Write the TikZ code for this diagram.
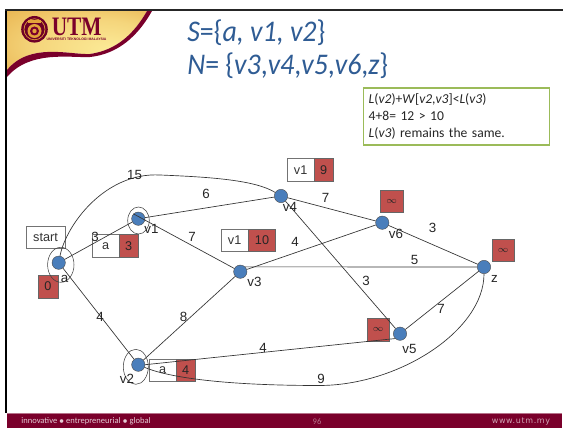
\documentclass[tikz,border=0pt]{standalone}
\usepackage{fontspec}
\setmainfont{Carlito}
\setsansfont{Liberation Sans}
\newfontfamily\logofont{Liberation Serif}
\newfontfamily\webfont[LetterSpace=8]{DejaVu Sans}
\usetikzlibrary{calc}
\definecolor{maroon}{HTML}{7A002B}
\definecolor{nodeblue}{HTML}{4A7EBB}
\definecolor{cellred}{HTML}{C0504D}
\definecolor{titleblue}{HTML}{2F5C94}
\definecolor{boxgreen}{HTML}{9BBB59}
\definecolor{gold}{HTML}{E3A33A}
\definecolor{lightgold}{HTML}{FCEB98}
\pgfdeclareradialshading{hdrshade}{\pgfpoint{13bp}{-8bp}}{color(0bp)=(lightgold); color(22bp)=(lightgold!70!gold); color(50bp)=(gold)}
\tikzset{
  px/.style={x=0.75pt,y=-0.75pt},
  gnode/.style={circle,fill=nodeblue,draw=black!70,line width=0.3pt,minimum size=10pt,inner sep=0pt},
  edge/.style={draw=black!80,line width=0.5pt},
  lbl/.style={font=\sffamily\fontsize{10}{10}\selectfont,text=black!85,inner sep=0pt},
  wcell/.style={draw=black!55,fill=white,line width=0.5pt,font=\sffamily\fontsize{9.5}{10}\selectfont,text=black!80,inner sep=0pt,anchor=north west},
  rcell/.style={draw=black!60,fill=cellred,line width=0.5pt,font=\sffamily\fontsize{9.5}{10}\selectfont,text=black!85,inner sep=0pt,anchor=north west},
  infcell/.style={rcell,font=\fontsize{7}{7}\selectfont,minimum width=17pt,minimum height=17pt},
  ring/.style={draw=black!75,line width=0.4pt},
  titletext/.style={font=\fontsize{22.5}{22}\selectfont,text=titleblue,anchor=west,inner sep=0pt}
}
\begin{document}
\begin{tikzpicture}[px]
\useasboundingbox (0,0) rectangle (563,428);
\fill[white] (0,0) rectangle (563,428);
% header
\shade[shading=hdrshade]
  (7,11) -- (147,11) .. controls (135,32) and (118,50) .. (90,54) .. controls (70,55) and (30,42) .. (7,70) -- cycle;
\fill[maroon] (147,11) -- (152,11) .. controls (138,36) and (118,54) .. (90,57) .. controls (70,58) and (30,50) .. (7,77) -- (7,70) .. controls (30,42) and (70,55) .. (90,54) .. controls (118,50) and (135,32) .. (147,11) -- cycle;
% logo
\fill[maroon!90!black] (34.5,29.3) circle (13.3);
\draw[gold,line width=0.5pt] (34.5,29.3) circle (10.5);
\fill[gold] (34.5,31) circle (7);
\fill[maroon] (34.5,31) circle (4.5);
\fill[gold] (34.5,31) circle (2.2);
\fill[gold] (28,20) rectangle (41,23);
\node (utm) at (76.7,26.4) [font=\logofont\bfseries\fontsize{20}{20}\selectfont,text=maroon,inner sep=0pt] {\scalebox{.8}[1]{UTM}};
\node (utmsub) at (76.5,39.6) [font=\sffamily\bfseries\fontsize{2.6}{3}\selectfont,text=maroon,inner sep=0pt] {UNIVERSITI TEKNOLOGI MALAYSIA};
% frame
\fill[black] (5,9) rectangle (7,412.5);
\fill[black!85] (5,9) rectangle (563,11.5);
\fill[maroon] (7,412.5) rectangle (562,428);
\fill[maroon!55!white] (7,412.5) rectangle (562,413.2);
% footer
\node (f1) at (86,421.7) [font=\fontsize{6.4}{7}\selectfont,text=white!80!maroon,inner sep=0pt] {innovative $\bullet$ entrepreneurial $\bullet$ global};
\node (f2) at (317,421.7) [font=\fontsize{6.4}{7}\selectfont,text=white!45!maroon,inner sep=0pt] {96};
\node (f3) at (521,421.5) [font=\webfont\fontsize{6}{7}\selectfont,text=white!65!maroon,inner sep=0pt] {www.utm.my};
% title
\node (t1) at (187,33) [titletext] {\scalebox{.93}[1]{\textit{S}=\{\textit{a, v1, v2}\}}};
\node (t2) at (187,66) [titletext] {\scalebox{.93}[1]{\textit{N}= \{\textit{v3},\textit{v4},\textit{v5},\textit{v6},\textit{z}\}}};
% note
\node (note) at (362.5,86.8) [draw=boxgreen,line width=1.3pt,fill=white,anchor=north west,inner xsep=4pt,inner ysep=2pt,text width=131.5pt,minimum height=43pt,align=left,font=\fontsize{10.2}{12.5}\selectfont,text=black!85] {\textit{L}(\textit{v2})+\textit{W}[\textit{v2},\textit{v3}]<\textit{L}(\textit{v3})\\4+8= 12 > 10\\\textit{L}(\textit{v3}) remains the same.};
% graph nodes
\node[gnode] (a) at (58.7,262.7) {};
\node[gnode] (v1) at (138.3,218.7) {};
\node[gnode] (v2) at (138.3,364.7) {};
\node[gnode] (v3) at (240.3,271.7) {};
\node[gnode] (v4) at (281,196) {};
\node[gnode] (v5) at (400,333.7) {};
\node[gnode] (v6) at (382.3,222.7) {};
\node[gnode] (z) at (484,267) {};
% boxes
\node[wcell,minimum width=29.5pt,minimum height=17pt] (start) at (25.5,225.5) {start};
\node[wcell,minimum width=20pt,minimum height=17.5pt] (c1a) at (92,234) {a};
\node[rcell,minimum width=14pt,minimum height=17.5pt] (c1v) at (119,234) {3};
\node[wcell,minimum width=20pt,minimum height=17pt] (c3a) at (221,228.5) {v1};
\node[rcell,minimum width=20.5pt,minimum height=17pt] (c3v) at (248,228.5) {10};
\node[wcell,minimum width=20pt,minimum height=17pt] (c4a) at (287,158.3) {v1};
\node[rcell,minimum width=14pt,minimum height=17pt] (c4v) at (314,158.3) {9};
\node[infcell] (c6v) at (380,189.5) {$\infty$};
\node[infcell] (czv) at (491.5,238.5) {$\infty$};
\node[infcell] (c5v) at (366.5,318) {$\infty$};
\node[rcell,minimum width=15pt,minimum height=17.5pt] (c0v) at (37.5,274.5) {0};
\node[wcell,minimum width=20pt,minimum height=17pt] (c2a) at (149,358.5) {a};
\node[rcell,minimum width=14pt,minimum height=17pt] (c2v) at (176,358.5) {4};
% edges
\draw[edge] (a) .. controls (66,225) and (105,172) .. (160,175) .. controls (210,177) and (255,180) .. (v4);
\draw[edge] (a) -- (v1);
\draw[edge] (a) -- (v2);
\draw[edge] (v1) -- (v4);
\draw[edge] (v1.north west) -- (v3);
\draw[edge] (v2) -- (v3);
\draw[edge] (v3) -- (v6);
\draw[edge] (v3.north east) -- (z.west);
\draw[edge] (v4) -- (v6);
\draw[edge] (v6) -- (z);
\draw[edge] (v4) -- (v5);
\draw[edge] (v5) -- (z);
\draw[edge] (v2.east) -- (v5.south west);
\draw[edge] (v2) .. controls (165,376) and (215,385.5) .. (320,385.5) .. controls (400,385) and (484,330) .. (z.south);
% rings
\draw[ring] (60.8,264.8) ellipse (13.2 and 17.5);
\draw[ring] (138.5,220.5) ellipse (10.8 and 13.5);
\draw[ring] (135.8,366.8) ellipse (12.5 and 17.5);
% node labels
\node[lbl] (la) at (64.5,279) {a};
\node[lbl] (lv1) at (151.5,228.5) {v1};
\node[lbl] (lv2) at (127,378.5) {v2};
\node[lbl] (lv3) at (254.5,281.5) {v3};
\node[lbl] (lv4) at (290,207) {v4};
\node[lbl] (lv5) at (409.5,348.5) {v5};
\node[lbl] (lv6) at (396,233.5) {v6};
\node[lbl] (lz) at (494.5,279) {z};
% weights
\node[lbl] (w15) at (134.5,175) {15};
\node[lbl] (w3a) at (95,237) {3};
\node[lbl] (w6) at (206,193.5) {6};
\node[lbl] (w7a) at (192,237) {7};
\node[lbl] (w4a) at (100,316.5) {4};
\node[lbl] (w8) at (183.5,317) {8};
\node[lbl] (w4b) at (263,348) {4};
\node[lbl] (w9) at (321,379) {9};
\node[lbl] (w7b) at (325.5,198) {7};
\node[lbl] (w4c) at (295,242) {4};
\node[lbl] (w5) at (414.5,260) {5};
\node[lbl] (w3b) at (432.5,228) {3};
\node[lbl] (w3c) at (366,281) {3};
\node[lbl] (w7c) at (441,309) {7};
\end{tikzpicture}
\end{document}
